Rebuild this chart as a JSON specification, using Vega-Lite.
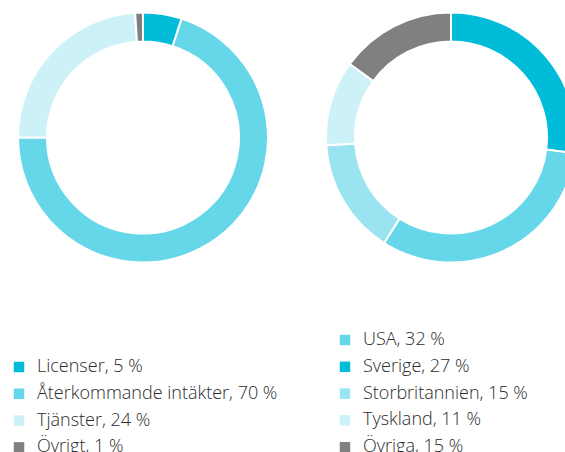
{
  "$schema": "https://vega.github.io/schema/vega-lite/v6.json",
  "padding": 0,
  "spacing": 22,
  "background": "white",
  "config": {
    "view": {"stroke": null},
    "font": "Open Sans",
    "legend": {
      "orient": "none",
      "title": null,
      "padding": 0,
      "labelFont": "Open Sans",
      "labelFontSize": 18,
      "labelFontWeight": 300,
      "labelColor": "#2b2b2b",
      "labelOffset": 9,
      "rowPadding": 8.8,
      "symbolType": "square",
      "symbolSize": 110,
      "symbolStrokeWidth": 0,
      "labelLimit": 400
    }
  },
  "resolve": {"scale": {"color": "independent"}, "legend": {"color": "independent"}},
  "hconcat": [
    {
      "width": 286,
      "height": 275,
      "data": {
        "values": [
          {"label": "Licenser, 5 %", "value": 5, "order": 1},
          {"label": "Återkommande intäkter, 70 %", "value": 70, "order": 2},
          {"label": "Tjänster, 24 %", "value": 24, "order": 3},
          {"label": "Övrigt, 1 %", "value": 1, "order": 4}
        ]
      },
      "mark": {"type": "arc", "outerRadius": 125, "innerRadius": 96, "stroke": "white", "strokeWidth": 2},
      "encoding": {
        "theta": {"field": "value", "type": "quantitative", "stack": true},
        "order": {"field": "order", "type": "quantitative"},
        "color": {
          "field": "label",
          "type": "nominal",
          "scale": {
            "domain": ["Licenser, 5 %", "Återkommande intäkter, 70 %", "Tjänster, 24 %", "Övrigt, 1 %"],
            "range": ["#00BCD9", "#66D7E8", "#CCF1F7", "#808080"]
          },
          "legend": {"legendX": 10, "legendY": 358}
        }
      }
    },
    {
      "width": 286,
      "height": 275,
      "data": {
        "values": [
          {"label": "Sverige, 27 %", "value": 27, "order": 1},
          {"label": "USA, 32 %", "value": 32, "order": 2},
          {"label": "Storbritannien, 15 %", "value": 15, "order": 3},
          {"label": "Tyskland, 11 %", "value": 11, "order": 4},
          {"label": "Övriga, 15 %", "value": 15, "order": 5}
        ]
      },
      "mark": {"type": "arc", "outerRadius": 125, "innerRadius": 96, "stroke": "white", "strokeWidth": 2},
      "encoding": {
        "theta": {"field": "value", "type": "quantitative", "stack": true},
        "order": {"field": "order", "type": "quantitative"},
        "color": {
          "field": "label",
          "type": "nominal",
          "scale": {
            "domain": ["USA, 32 %", "Sverige, 27 %", "Storbritannien, 15 %", "Tyskland, 11 %", "Övriga, 15 %"],
            "range": ["#66D7E8", "#00BCD9", "#99E4F0", "#CCF1F7", "#808080"]
          },
          "legend": {"legendX": 28, "legendY": 331}
        }
      }
    }
  ]
}
